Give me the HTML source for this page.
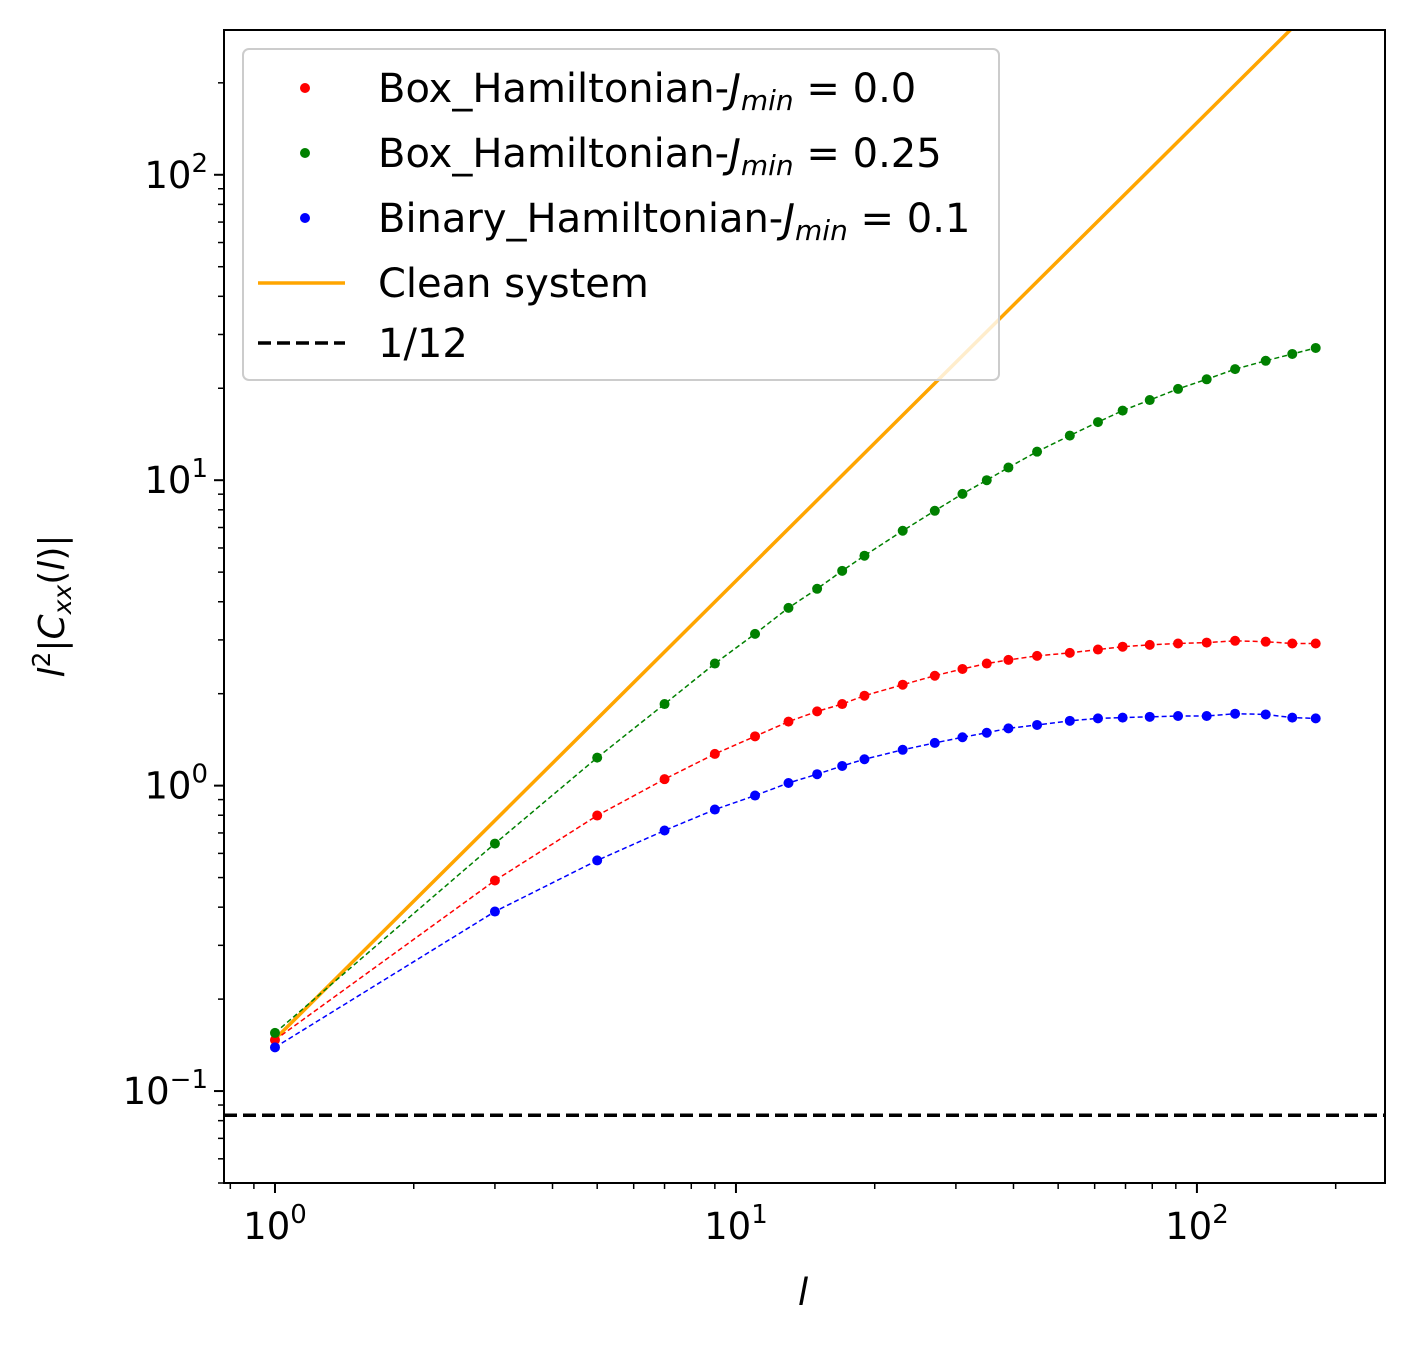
<!DOCTYPE html>
<html><head><meta charset="utf-8"><style>
body{margin:0;background:#fff}
svg text{font-family:"DejaVu Sans","Liberation Sans",sans-serif;fill:#000}
</style></head><body>
<svg id="chart" width="1415" height="1341" xmlns="http://www.w3.org/2000/svg">
<g id="plot"></g>
</svg>
<script>
const xs=[1,3,5,7,9,11,13,15,17,19,23,27,31,35,39,45,53,61,69,79,91,105,121,141,161,181];
const greenY=[0.155,0.646,1.235,1.85,2.51,3.14,3.82,4.41,5.05,5.66,6.83,7.94,9.02,10.0,11.0,12.4,14.0,15.5,16.9,18.3,19.9,21.4,23.1,24.6,25.9,27.1];
const redY=[0.147,0.489,0.798,1.05,1.27,1.45,1.62,1.75,1.85,1.97,2.14,2.29,2.41,2.51,2.58,2.66,2.72,2.79,2.85,2.89,2.92,2.94,2.98,2.96,2.92,2.92];
const blueY=[0.139,0.387,0.569,0.713,0.835,0.928,1.02,1.09,1.16,1.22,1.31,1.38,1.44,1.49,1.54,1.58,1.63,1.66,1.67,1.68,1.69,1.69,1.72,1.71,1.67,1.66];
const cleanX=[1,300];
const cleanY=[0.148,769];
const refY=[1/12];
const xTicks=[1,10,100];
const xTickExp=["0","1","2"];
const yTicks=[0.1,1,10,100];
const yTickExp=["−1","0","1","2"];

const L=224,R=1385,T=30,B=1183;
const xmin=-0.1106,xmax=2.408,ymin=Math.log10(0.05),ymax=2.474;
const X=v=>L+(Math.log10(v)-xmin)/(xmax-xmin)*(R-L);
const Y=v=>B-(Math.log10(v)-ymin)/(ymax-ymin)*(B-T);
const NS="http://www.w3.org/2000/svg";
const svg=document.getElementById('chart');
function mk(tag,at,parent){const e=document.createElementNS(NS,tag);for(const k in at)e.setAttribute(k,at[k]);(parent||svg).appendChild(e);return e;}

const defs=mk('defs',{});const cp=mk('clipPath',{id:'clip'},defs);mk('rect',{x:L,y:T,width:R-L,height:B-T},cp);
const g=mk('g',{'clip-path':'url(#clip)'});



let cl=mk('line',{x1:X(cleanX[0]),y1:Y(cleanY[0]),x2:X(cleanX[1]),y2:Y(cleanY[1]),stroke:'#ffa500','stroke-width':3.5},g);


let rl=mk('line',{x1:L,y1:Y(refY[0]),x2:R,y2:Y(refY[0]),stroke:'#000','stroke-width':3.5,'stroke-dasharray':'13,6'},g);



function series(ys,col,name){
  const p=mk('polyline',{points:xs.map((x,i)=>X(x)+','+Y(ys[i])).join(' '),fill:'none',stroke:col,'stroke-width':1.5,'stroke-dasharray':'5,3'},g);
  
  
  xs.forEach((x,i)=>{const c=mk('circle',{cx:X(x),cy:Y(ys[i]),r:5,fill:col},g);
    
    });
}
series(redY,'#ff0000','box-jmin-0');
series(greenY,'#008000','box-jmin-0.25');
series(blueY,'#0000ff','binary-jmin-0.1');

let fr=mk('rect',{x:L,y:T,width:R-L,height:B-T,fill:'none',stroke:'#000','stroke-width':2});



for(let d=-1;d<=3;d++)for(let m=1;m<10;m++){const v=m*Math.pow(10,d);const lv=Math.log10(v);if(lv<xmin||lv>xmax)continue;
  const t=mk('line',{x1:X(v),x2:X(v),y1:B,y2:B+(m==1?10:6),stroke:'#000','stroke-width':m==1?2:1.5});
  
  }
xTicks.forEach((v,i)=>{const t=mk('text',{x:X(v),y:B+56,'text-anchor':'middle','font-size':37});
  
  
  t.innerHTML='10<tspan dy="-16" font-size="26">'+xTickExp[i]+'</tspan>';});
for(let d=-2;d<=3;d++)for(let m=1;m<10;m++){const v=m*Math.pow(10,d);const lv=Math.log10(v);if(lv<ymin-1e-9||lv>ymax)continue;
  const t=mk('line',{x1:L,x2:L-(m==1?10:6),y1:Y(v),y2:Y(v),stroke:'#000','stroke-width':m==1?2:1.5});
  
  }
yTicks.forEach((v,i)=>{const t=mk('text',{x:L-16,y:Y(v)+13,'text-anchor':'end','font-size':37});
  
  
  t.innerHTML='10<tspan dy="-16" font-size="26">'+yTickExp[i]+'</tspan>';});
</script>
<svg style="position:absolute;left:0;top:0" width="1415" height="1341" xmlns="http://www.w3.org/2000/svg">
<text x="803" y="1305" font-size="37" font-style="italic" text-anchor="middle">l</text>
<text transform="translate(64,606) rotate(-90)" font-size="36" text-anchor="middle"><tspan font-style="italic">l</tspan><tspan dy="-14" font-size="25">2</tspan><tspan dy="14">|</tspan><tspan font-style="italic">C</tspan><tspan dy="7" font-size="25" font-style="italic">xx</tspan><tspan dy="-7">(</tspan><tspan font-style="italic">l</tspan>)|</text>
<g>
<rect x="243" y="49" width="756" height="331" rx="6" fill="#fff" fill-opacity="0.8" stroke="#ccc" stroke-width="2"/>
<circle cx="305" cy="88" r="5" fill="#ff0000"/>
<text x="378" y="102" font-size="40">Box_Hamiltonian-<tspan font-style="italic">J</tspan><tspan font-style="italic" font-size="28" dy="8">min</tspan><tspan dy="-8"> = 0.0</tspan></text>
<circle cx="305" cy="153" r="5" fill="#008000"/>
<text x="378" y="167" font-size="40">Box_Hamiltonian-<tspan font-style="italic">J</tspan><tspan font-style="italic" font-size="28" dy="8">min</tspan><tspan dy="-8"> = 0.25</tspan></text>
<circle cx="305" cy="218" r="5" fill="#0000ff"/>
<text x="378" y="232" font-size="40">Binary_Hamiltonian-<tspan font-style="italic">J</tspan><tspan font-style="italic" font-size="28" dy="8">min</tspan><tspan dy="-8"> = 0.1</tspan></text>
<line x1="258" y1="283" x2="345" y2="283" stroke="#ffa500" stroke-width="3.5"/>
<text x="378" y="297" font-size="40">Clean system</text>
<line x1="258" y1="343" x2="345" y2="343" stroke="#000" stroke-width="3.5" stroke-dasharray="13,6"/>
<text x="378" y="357" font-size="40">1/12</text>
</g>
</svg>
</body></html>
